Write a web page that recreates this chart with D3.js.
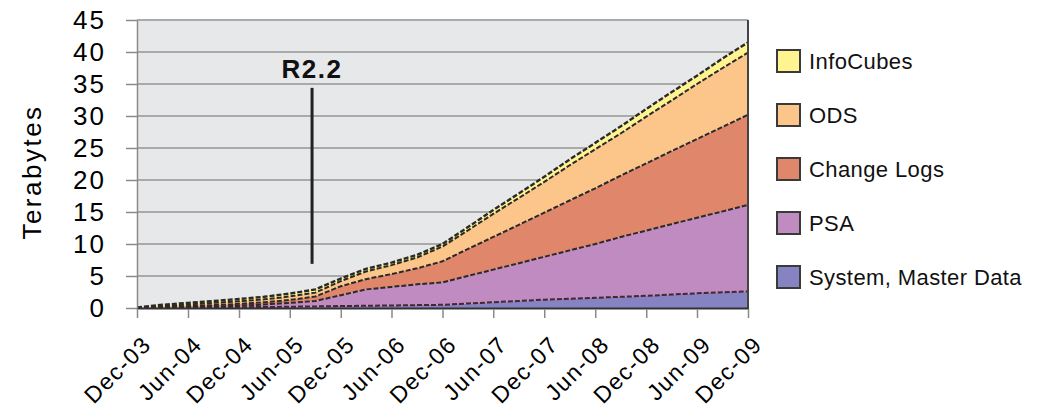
<!DOCTYPE html>
<html>
<head>
<meta charset="utf-8">
<script src="https://cdn.jsdelivr.net/npm/d3@7"></script>
<style>
  body { margin: 0; background: #ffffff; }
  svg { display: block; font-family: "Liberation Sans", Arial, Helvetica, sans-serif; }
</style>
</head>
<body>
<svg id="chart" width="1037" height="413"></svg>
<script>
// Quarterly snapshots, Dec 2003 – Dec 2009
const months = [
  "2003-12", "2004-03", "2004-06", "2004-09", "2004-12",
  "2005-03", "2005-06", "2005-09", "2005-12",
  "2006-03", "2006-06", "2006-09", "2006-12",
  "2007-03", "2007-06", "2007-09", "2007-12",
  "2008-03", "2008-06", "2008-09", "2008-12",
  "2009-03", "2009-06", "2009-09", "2009-12"
];

// Volume per data area, in terabytes
const systemMasterData = [0.02, 0.05, 0.08, 0.10, 0.12, 0.15, 0.20, 0.25, 0.30, 0.35, 0.40, 0.45, 0.50,
                          0.70, 0.90, 1.10, 1.30, 1.45, 1.60, 1.75, 1.90, 2.10, 2.30, 2.45, 2.60];
const psa              = [0.02, 0.05, 0.07, 0.10, 0.23, 0.40, 0.60, 0.85, 1.70, 2.55, 2.90, 3.25, 3.50,
                          4.30, 5.10, 5.90, 6.70, 7.55, 8.40, 9.35, 10.2, 11.0, 11.8, 12.65, 13.5];
const changeLogs       = [0.02, 0.10, 0.15, 0.25, 0.30, 0.35, 0.45, 0.70, 1.40, 1.60, 2.00, 2.50, 3.30,
                          4.20, 5.10, 6.00, 6.90, 7.80, 8.70, 9.60, 10.5, 11.4, 12.3, 13.2, 14.1];
const ods              = [0.02, 0.15, 0.25, 0.35, 0.40, 0.45, 0.55, 0.60, 0.80, 1.20, 1.40, 1.70, 2.30,
                          2.90, 3.60, 4.20, 4.80, 5.50, 6.10, 6.60, 7.30, 7.90, 8.60, 9.20, 9.70];
const infoCubes        = [0.02, 0.15, 0.25, 0.30, 0.35, 0.40, 0.45, 0.50, 0.40, 0.40, 0.40, 0.40, 0.40,
                          0.50, 0.60, 0.70, 0.80, 0.90, 1.00, 1.10, 1.20, 1.30, 1.30, 1.50, 1.60];

const seriesNames = ["System, Master Data", "PSA", "Change Logs", "ODS", "InfoCubes"];
const seriesValues = [systemMasterData, psa, changeLogs, ods, infoCubes];
const seriesColors = ["#8583c2", "#c08bc0", "#e0866b", "#fcc68a", "#fff490"];

const xTickLabels = ["Dec-03", "Jun-04", "Dec-04", "Jun-05", "Dec-05", "Jun-06", "Dec-06",
                     "Jun-07", "Dec-07", "Jun-08", "Dec-08", "Jun-09", "Dec-09"];
const yTicks = [0, 5, 10, 15, 20, 25, 30, 35, 40, 45];

// Release marker
const releaseLabel = "R2.2";
const releaseDate = "2005-08-20";
const releaseSpan = [6.9, 34.4];

// ---------------------------------------------------------------
const svg = d3.select("#chart");
const plot = { left: 137, right: 748, top: 20, bottom: 308 };

const parseMonth = d3.timeParse("%Y-%m");
const parseDay = d3.timeParse("%Y-%m-%d");
const parseTick = d3.timeParse("%b-%y");
const dates = months.map(parseMonth);

const table = dates.map((date, i) => {
  const row = { date };
  seriesNames.forEach((name, k) => { row[name] = seriesValues[k][i]; });
  return row;
});

const x = d3.scaleTime()
  .domain(d3.extent(dates))
  .range([plot.left, plot.right]);
const y = d3.scaleLinear()
  .domain([0, 45])
  .range([plot.bottom, plot.top]);

// plot background
svg.append("rect")
  .attr("x", plot.left).attr("y", plot.top)
  .attr("width", plot.right - plot.left).attr("height", plot.bottom - plot.top)
  .attr("fill", "#e7e8ea");

// horizontal gridlines
svg.append("g")
  .selectAll("line")
  .data(yTicks.filter(v => v > 0))
  .join("line")
  .attr("x1", plot.left).attr("x2", plot.right)
  .attr("y1", d => y(d)).attr("y2", d => y(d))
  .attr("stroke", "#aaaaaa").attr("stroke-width", 2);

// stacked areas
const stack = d3.stack().keys(seriesNames);
const layers = stack(table);

const area = d3.area()
  .x(d => x(d.data.date))
  .y0(d => y(d[0]))
  .y1(d => y(d[1]));
const topLine = d3.line()
  .x(d => x(d.data.date))
  .y(d => y(d[1]));

svg.append("g")
  .selectAll("path")
  .data(layers)
  .join("path")
  .attr("d", area)
  .attr("fill", (d, i) => seriesColors[i]);

svg.append("g")
  .selectAll("path")
  .data(layers)
  .join("path")
  .attr("d", topLine)
  .attr("fill", "none")
  .attr("stroke", (d, i) => i === 0 ? "#4a2430" : "#2a2a2a")
  .attr("stroke-width", (d, i) => i === layers.length - 1 ? 2.4 : 2)
  .attr("stroke-dasharray", "5,2");

// frame: right and bottom edges
svg.append("line")
  .attr("x1", plot.right).attr("x2", plot.right)
  .attr("y1", plot.top).attr("y2", plot.bottom + 1)
  .attr("stroke", "#444").attr("stroke-width", 2);
svg.append("line")
  .attr("x1", plot.left).attr("x2", plot.right + 1)
  .attr("y1", plot.bottom + 0.5).attr("y2", plot.bottom + 0.5)
  .attr("stroke", "#333").attr("stroke-width", 2);

// y axis
const yAxis = svg.append("g")
  .attr("transform", `translate(${plot.left},0)`)
  .call(d3.axisLeft(y).tickValues(yTicks).tickSize(11).tickPadding(20).tickSizeOuter(0));
yAxis.select(".domain").attr("stroke", "#8a8a8a").attr("stroke-width", 1.5);
yAxis.selectAll(".tick line").attr("stroke", "#8a8a8a").attr("stroke-width", 1.5);
yAxis.selectAll(".tick text")
  .attr("font-size", 26)
  .attr("letter-spacing", 2)
  .attr("fill", "#000")
  .attr("font-family", "'Liberation Sans', Arial, sans-serif");

// y axis title
svg.append("text")
  .attr("transform", `translate(41,172) rotate(-90)`)
  .attr("text-anchor", "middle")
  .attr("font-size", 26)
  .attr("letter-spacing", 2.5)
  .attr("fill", "#000")
  .text("Terabytes");

// x axis
const xAxis = svg.append("g")
  .attr("transform", `translate(0,${plot.bottom + 1})`)
  .call(d3.axisBottom(x)
    .tickValues(xTickLabels.map(parseTick))
    .tickFormat(d3.timeFormat("%b-%y"))
    .tickSize(9)
    .tickSizeOuter(0));
xAxis.select(".domain").remove();
xAxis.selectAll(".tick line").attr("stroke", "#8a8a8a").attr("stroke-width", 1.5);
xAxis.selectAll(".tick text")
  .attr("x", 0).attr("y", 0).attr("dy", 0)
  .attr("text-anchor", "end")
  .attr("transform", "translate(15,37) rotate(-45)")
  .attr("font-size", 23)
  .attr("letter-spacing", 1.5)
  .attr("fill", "#000")
  .attr("font-family", "'Liberation Sans', Arial, sans-serif");

// release annotation
const rx = x(parseDay(releaseDate));
svg.append("line")
  .attr("x1", rx).attr("x2", rx)
  .attr("y1", y(releaseSpan[1])).attr("y2", y(releaseSpan[0]))
  .attr("stroke", "#222").attr("stroke-width", 3);
svg.append("text")
  .attr("x", rx).attr("y", 78)
  .attr("text-anchor", "middle")
  .attr("font-size", 26)
  .attr("font-weight", "bold")
  .attr("letter-spacing", 1.5)
  .attr("fill", "#111")
  .text(releaseLabel);

// legend, top entry first
const legendOrder = d3.range(seriesNames.length).reverse();
const legend = svg.append("g")
  .selectAll("g")
  .data(legendOrder)
  .join("g")
  .attr("transform", (d, i) => `translate(777,${50 + i * 54})`);
legend.append("rect")
  .attr("width", 23).attr("height", 22)
  .attr("fill", d => seriesColors[d])
  .attr("stroke", "#3a3a3a").attr("stroke-width", 2);
legend.append("text")
  .attr("x", 32).attr("y", 11)
  .attr("dy", "0.36em")
  .attr("font-size", 22)
  .attr("letter-spacing", 0.4)
  .attr("fill", "#111")
  .text(d => seriesNames[d]);
</script>
</body>
</html>
